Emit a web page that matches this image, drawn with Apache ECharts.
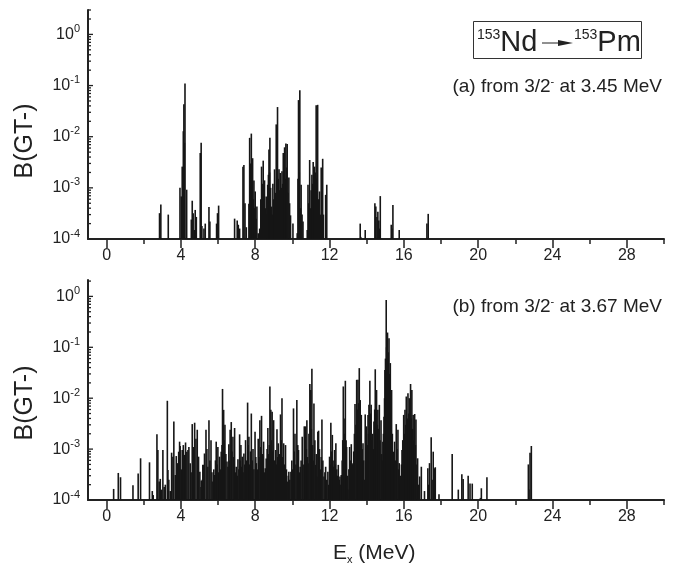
<!DOCTYPE html>
<html><head><meta charset="utf-8">
<script src="https://cdn.jsdelivr.net/npm/echarts@6/dist/echarts.min.js"></script>
<style>html,body{margin:0;padding:0;background:#fff}#c{width:698px;height:571px}</style>
</head><body><div id="c"></div>
<script>
// ---- axis ticks ----
const xMajorTicks = [0, 4, 8, 12, 16, 20, 24, 28];
const xMinorTicks = [2, 6, 10, 14, 18, 22, 26, 30];
const yMajorTicks = [1e-4, 1e-3, 1e-2, 1e-1, 1];
const yMinorTicks = [2e-4,3e-4,4e-4,5e-4,6e-4,7e-4,8e-4,9e-4,
  2e-3,3e-3,4e-3,5e-3,6e-3,7e-3,8e-3,9e-3,
  2e-2,3e-2,4e-2,5e-2,6e-2,7e-2,8e-2,9e-2,
  0.2,0.3,0.4,0.5,0.6,0.7,0.8,0.9, 2, 3];

// ---- panel (a): from 3/2- at 3.45 MeV ----
const topE = [
  2.85, 2.92, 3.32, 3.95, 4.02, 4.07, 4.13, 4.16, 4.19, 4.22,
  4.31, 4.56, 4.61, 4.66, 4.72, 4.77, 4.83, 5.04, 5.09, 5.13,
  5.24, 5.31, 5.51, 5.56, 5.92, 5.97, 6.03, 6.89, 7.03, 7.09,
  7.16, 7.34, 7.39, 7.45, 7.52, 7.66, 7.70, 7.74, 7.79, 7.83,
  7.86, 7.90, 7.93, 7.97, 8.00, 8.05, 8.09, 8.16, 8.24, 8.30,
  8.34, 8.38, 8.43, 8.46, 8.50, 8.55, 8.59, 8.63, 8.67, 8.71,
  8.74, 8.77, 8.79, 8.83, 8.88, 8.92, 8.95, 9.00, 9.04, 9.08,
  9.13, 9.17, 9.20, 9.24, 9.28, 9.32, 9.35, 9.40, 9.44, 9.48,
  9.51, 9.55, 9.58, 9.62, 9.65, 9.69, 9.72, 9.76, 9.81, 9.85,
  9.90, 10.03, 10.26, 10.30, 10.33, 10.37, 10.40, 10.44, 10.47, 10.52,
  10.57, 10.80, 10.84, 10.88, 10.93, 10.97, 11.01, 11.05, 11.09, 11.12,
  11.16, 11.19, 11.24, 11.28, 11.32, 11.36, 11.41, 11.46, 11.50, 11.55,
  11.59, 11.63, 11.67, 11.79, 11.85, 13.65, 13.68, 13.92, 14.44, 14.49,
  14.55, 14.60, 14.65, 14.68, 14.73, 15.32, 15.36, 15.41, 15.75, 17.24, 17.31
];
const topB = [
  3.2e-4, 4.7e-4, 3.0e-4, 1.0e-3, 6.8e-4, 2.6e-3, 1.28e-2, 4.3e-2, 7.6e-3, 1.1e-1,
  9.2e-4, 2.4e-4, 5.6e-4, 3.2e-4, 1.5e-4, 3.7e-4, 2.7e-4, 4.8e-3, 7.6e-3, 1.8e-4,
  1.6e-4, 2.0e-4, 4.2e-4, 2.2e-4, 2.0e-4, 3.2e-4, 4.5e-4, 2.5e-4, 2.3e-4, 1.9e-4,
  1.6e-4, 2.6e-3, 2.8e-3, 5.0e-4, 1.7e-4, 4.9e-4, 9.5e-3, 3.0e-3, 1.15e-2, 1.0e-3,
  3.8e-3, 6.0e-4, 1.4e-3, 4.0e-4, 8.5e-4, 2.5e-4, 4.3e-4, 1.3e-4, 1.6e-4, 6.0e-4,
  2.6e-3, 1.2e-3, 3.4e-3, 8.0e-4, 1.4e-3, 4.0e-4, 6.8e-4, 3.0e-4, 1.15e-3, 1.8e-3,
  5.6e-3, 2.0e-3, 9.5e-3, 1.0e-3, 4.3e-4, 3.0e-4, 1.2e-3, 6.0e-4, 2.3e-3, 8.0e-4,
  1.74e-2, 5.0e-3, 3.8e-2, 1.5e-3, 2.3e-3, 9.0e-4, 1.95e-3, 1.0e-3, 2.1e-3, 1.2e-3,
  4.8e-3, 2.0e-3, 6.2e-3, 1.5e-3, 7.4e-3, 2.5e-3, 7.2e-3, 8.0e-4, 1.6e-3, 5.0e-4,
  2.9e-4, 2.0e-4, 1.3e-4, 1.5e-3, 5.2e-2, 2.0e-3, 8.1e-2, 4.0e-4, 1.15e-3, 3.0e-4,
  2.2e-4, 1.5e-4, 1.15e-3, 5.0e-4, 3.5e-3, 4.0e-4, 9.0e-4, 1.8e-3, 1.2e-3, 3.2e-3,
  1.0e-3, 2.6e-3, 2.0e-3, 4.1e-2, 1.5e-3, 4.2e-2, 6.0e-4, 8.5e-4, 3.0e-4, 2.5e-3,
  8.0e-4, 3.7e-3, 3.0e-4, 7.3e-4, 1.15e-3, 2.0e-4, 1.1e-4, 1.5e-4, 5.0e-4, 4.3e-4,
  2.7e-4, 3.4e-4, 2.3e-4, 1.6e-4, 6.9e-4, 1.9e-4, 1.6e-4, 4.6e-4, 1.5e-4, 2.0e-4, 3.1e-4
];

// ---- panel (b): from 3/2- at 3.67 MeV ----
const botE = [
  0.38, 0.63, 0.75, 1.42, 1.70, 1.83, 2.31, 2.46, 2.51, 2.71,
  2.76, 2.83, 2.89, 2.96, 3.03, 3.10, 3.16, 3.27, 3.30, 3.35,
  3.43, 3.50, 3.57, 3.62, 3.70, 3.75, 3.82, 3.88, 3.93, 3.96,
  4.02, 4.07, 4.13, 4.20, 4.25, 4.32, 4.38, 4.43, 4.50, 4.55,
  4.61, 4.68, 4.74, 4.81, 4.88, 4.95, 5.02, 5.08, 5.10, 5.15,
  5.18, 5.22, 5.27, 5.35, 5.40, 5.45, 5.51, 5.56, 5.62, 5.67,
  5.72, 5.77, 5.81, 5.86, 5.90, 5.95, 5.99, 6.04, 6.08, 6.13,
  6.17, 6.21, 6.24, 6.30, 6.33, 6.37, 6.42, 6.48, 6.53, 6.58,
  6.62, 6.65, 6.71, 6.75, 6.80, 6.85, 6.89, 6.94, 6.98, 7.03,
  7.07, 7.12, 7.16, 7.20, 7.23, 7.27, 7.30, 7.35, 7.39, 7.44,
  7.48, 7.53, 7.59, 7.62, 7.66, 7.70, 7.75, 7.79, 7.84, 7.88,
  7.93, 7.99, 8.03, 8.06, 8.11, 8.16, 8.20, 8.25, 8.30, 8.34,
  8.40, 8.45, 8.50, 8.54, 8.59, 8.64, 8.68, 8.72, 8.76, 8.79,
  8.84, 8.88, 8.91, 8.95, 8.99, 9.04, 9.10, 9.14, 9.17, 9.21,
  9.24, 9.28, 9.32, 9.36, 9.40, 9.44, 9.48, 9.53, 9.58, 9.63,
  9.68, 9.74, 9.78, 9.81, 9.86, 9.92, 9.97, 10.02, 10.06, 10.10,
  10.14, 10.19, 10.24, 10.29, 10.33, 10.38, 10.42, 10.47, 10.53, 10.58,
  10.64, 10.68, 10.71, 10.75, 10.78, 10.82, 10.85, 10.89, 10.94, 10.99,
  11.02, 11.05, 11.09, 11.12, 11.16, 11.21, 11.25, 11.29, 11.32, 11.37,
  11.41, 11.46, 11.50, 11.55, 11.59, 11.64, 11.70, 11.75, 11.79, 11.85,
  11.91, 11.96, 12.00, 12.04, 12.07, 12.11, 12.15, 12.19, 12.22, 12.27,
  12.31, 12.34, 12.39, 12.43, 12.47, 12.52, 12.56, 12.60, 12.63, 12.68,
  12.71, 12.74, 12.78, 12.82, 12.85, 12.89, 12.92, 12.96, 12.99, 13.04,
  13.08, 13.12, 13.17, 13.22, 13.26, 13.30, 13.34, 13.37, 13.42, 13.46,
  13.50, 13.53, 13.57, 13.60, 13.65, 13.68, 13.71, 13.76, 13.80, 13.84,
  13.87, 13.92, 13.96, 13.99, 14.03, 14.07, 14.10, 14.12, 14.17, 14.21,
  14.24, 14.28, 14.32, 14.36, 14.39, 14.43, 14.46, 14.50, 14.53, 14.57,
  14.60, 14.64, 14.68, 14.72, 14.77, 14.81, 14.84, 14.87, 14.90, 14.93,
  14.96, 14.98, 15.01, 15.05, 15.07, 15.09, 15.12, 15.16, 15.20, 15.23,
  15.27, 15.31, 15.34, 15.38, 15.43, 15.47, 15.50, 15.55, 15.59, 15.63,
  15.68, 15.71, 15.75, 15.79, 15.83, 15.87, 15.90, 15.94, 15.99, 16.03,
  16.06, 16.10, 16.13, 16.18, 16.22, 16.26, 16.29, 16.33, 16.36, 16.40,
  16.43, 16.47, 16.50, 16.54, 16.58, 16.62, 16.65, 16.70, 16.74, 16.79,
  16.85, 16.94, 17.11, 17.29, 17.34, 17.38, 17.47, 17.52, 17.58, 17.66,
  17.69, 17.89, 18.60, 18.93, 19.12, 19.19, 19.46, 19.56, 19.68, 20.12,
  20.17, 20.47, 22.70, 22.73, 22.79, 22.86
];
const botB = [
  1.65e-4, 3.4e-4, 2.8e-4, 1.95e-4, 3.3e-4, 6.6e-4, 5.5e-4, 1.5e-4, 1.25e-4, 1.95e-3,
  9.6e-4, 2.3e-4, 2.6e-4, 1.6e-4, 9.6e-4, 1.8e-4, 2.0e-4, 8.9e-3, 3.9e-4, 2.5e-4,
  1.5e-4, 8.5e-4, 7.1e-4, 3.5e-3, 3.1e-4, 7.3e-4, 5.3e-4, 8.9e-4, 1.4e-3, 1.15e-3,
  4.0e-4, 9.6e-4, 1.2e-3, 7.7e-4, 1.35e-3, 8.9e-4, 9.6e-4, 1.1e-3, 5.3e-4, 3.5e-4,
  3.1e-3, 1.1e-3, 3.3e-3, 1.6e-3, 2.4e-3, 7.1e-4, 3.6e-4, 1.8e-4, 2.4e-4, 2.5e-4,
  4.9e-4, 4.9e-4, 8.2e-4, 2.4e-3, 1.0e-3, 4.5e-4, 3.7e-3, 6.0e-4, 1.5e-3, 3.5e-4,
  2.3e-4, 4.0e-4, 3.1e-4, 6.0e-4, 1.4e-3, 5.0e-4, 1.1e-3, 3.5e-4, 7.1e-4, 4.0e-4,
  8.9e-4, 1.2e-3, 1.52e-2, 5.9e-3, 1.5e-3, 3.0e-3, 8.0e-4, 5.7e-4, 4.5e-4, 1.25e-3,
  6.0e-4, 2.4e-3, 3.4e-3, 9.0e-4, 1.75e-3, 7.0e-4, 2.6e-3, 3.5e-4, 4.5e-4, 3.0e-4,
  6.3e-4, 4.0e-4, 1.95e-3, 6.0e-4, 1.2e-3, 4.5e-4, 7.1e-4, 3.5e-4, 8.2e-4, 5.0e-4,
  1.5e-3, 6.0e-4, 8.2e-3, 1.2e-3, 1.75e-3, 5.0e-4, 9.0e-4, 5.0e-3, 6.0e-4, 1.0e-3,
  4.0e-4, 2.2e-3, 7.0e-4, 5.3e-4, 4.0e-4, 1.6e-3, 7.0e-4, 3.7e-3, 1.1e-3, 4.5e-3,
  8.0e-4, 1.4e-3, 3.5e-4, 4.2e-4, 6.5e-4, 1.0e-3, 2.6e-3, 8.0e-4, 1.2e-3, 1.7e-2,
  5.9e-3, 1.5e-3, 5.4e-3, 9.0e-4, 3.7e-3, 6.0e-4, 9.6e-4, 5.0e-4, 2.45e-3, 7.0e-4,
  1.3e-3, 5.0e-4, 8.0e-4, 4.8e-3, 1.5e-3, 1.0e-2, 7.0e-4, 1.3e-3, 5.0e-4, 1.2e-3,
  4.0e-4, 2.3e-4, 3.0e-4, 3.6e-4, 2.5e-4, 3.6e-4, 6.0e-4, 4.0e-4, 6.3e-3, 9.0e-4,
  2.0e-3, 5.0e-4, 9.2e-3, 1.2e-3, 9.6e-4, 3.5e-4, 4.5e-4, 6.0e-4, 1.75e-3, 5.0e-4,
  2.8e-3, 8.0e-4, 2.8e-3, 1.0e-3, 3.7e-3, 7.0e-4, 5.3e-4, 2.0e-3, 1.9e-2, 1.45e-2,
  2.5e-3, 3.8e-2, 1.2e-3, 6.0e-4, 7.9e-3, 1.5e-3, 4.9e-4, 8.0e-4, 2.9e-4, 2.2e-3,
  2.3e-3, 1.0e-3, 4.0e-4, 7.0e-4, 3.8e-3, 6.0e-4, 2.9e-4, 3.5e-4, 4.5e-4, 2.5e-4,
  3.6e-4, 2.0e-4, 7.1e-4, 5.0e-4, 3.3e-3, 9.0e-4, 1.9e-3, 6.0e-4, 4.5e-4, 9.6e-4,
  5.0e-4, 1.3e-3, 4.0e-4, 3.0e-4, 4.9e-4, 2.5e-4, 2.9e-4, 2.0e-4, 3.1e-4, 6.0e-4,
  1.5e-3, 1.7e-2, 4.0e-3, 2.0e-3, 2.2e-2, 1.5e-3, 1.1e-3, 3.0e-4, 1.6e-4, 4.0e-4,
  1.1e-3, 6.0e-4, 1.25e-3, 5.0e-4, 5.3e-4, 9.0e-4, 2.0e-3, 7.7e-3, 3.0e-3, 2.3e-2,
  6.0e-3, 2.3e-2, 8.0e-3, 3.9e-2, 9.2e-3, 2.5e-3, 4.7e-3, 1.0e-3, 1.3e-3, 6.0e-4,
  2.5e-4, 4.8e-3, 1.5e-3, 2.8e-3, 1.2e-3, 4.7e-3, 2.0e-3, 7.4e-3, 2.2e-2, 5.0e-3,
  7.4e-3, 1.5e-3, 2.0e-3, 1.0e-3, 3.5e-3, 6.0e-3, 3.7e-2, 5.0e-3, 1.45e-2, 3.0e-3,
  5.9e-3, 2.5e-3, 7.4e-3, 1.5e-3, 3.7e-3, 8.0e-4, 6.0e-4, 1.4e-3, 2.0e-3, 4.3e-3,
  1.0e-2, 3.6e-2, 6.0e-2, 8.5e-1, 1.0e-1, 1.3e-1, 1.95e-1, 8.0e-2, 1.5e-1, 3.0e-2,
  4.9e-2, 5.0e-3, 1.45e-2, 2.0e-3, 8.9e-4, 5.0e-4, 1.4e-3, 6.0e-4, 3.1e-3, 1.0e-3,
  2.4e-3, 4.0e-4, 5.3e-4, 2.0e-4, 3.0e-4, 5.0e-4, 9.6e-4, 1.5e-3, 4.7e-3, 2.0e-3,
  5.9e-3, 3.0e-3, 1.08e-2, 4.0e-3, 1.25e-2, 5.0e-3, 1.0e-2, 6.0e-3, 1.9e-2, 4.0e-3,
  1.45e-2, 2.5e-3, 4.7e-3, 1.5e-3, 4.9e-3, 1.2e-3, 3.8e-3, 5.0e-4, 6.6e-4, 2.0e-4,
  2.9e-4, 4.5e-4, 1.5e-4, 4.2e-4, 2.0e-4, 5.3e-4, 1.7e-3, 2.5e-4, 8.9e-4, 4.2e-4,
  4.4e-4, 1.3e-4, 8.0e-4, 1.6e-4, 3.2e-4, 2.6e-4, 3.0e-4, 2.1e-4, 2.1e-4, 1.1e-4,
  1.7e-4, 2.8e-4, 5.0e-4, 1.6e-4, 8.5e-4, 1.15e-3
];

// ---- ranges ----
const X_MIN = -1, X_MAX = 30;
const Y_MIN = 1e-4;
const Y_MAX_TOP = 3, Y_MAX_BOT = 2.1;

const FONT = "'Liberation Sans', Arial, sans-serif";
const INK = '#222';

function xAxes(g) {
  return [
    { type: 'value', gridIndex: g, min: X_MIN, max: X_MAX, position: 'bottom',
      axisLine: { show: true, onZero: false, lineStyle: { color: INK, width: 2 } },
      axisTick: { show: true, inside: false, length: 9, customValues: xMajorTicks, lineStyle: { color: INK, width: 1.5 } },
      axisLabel: { customValues: xMajorTicks, margin: 9, fontSize: 16, color: INK, fontFamily: FONT },
      splitLine: { show: false } },
    { type: 'value', gridIndex: g, min: X_MIN, max: X_MAX, position: 'bottom',
      axisLine: { show: false, onZero: false },
      axisTick: { show: true, inside: false, length: 5, customValues: xMinorTicks, lineStyle: { color: INK, width: 1.5 } },
      axisLabel: { show: false },
      splitLine: { show: false } }
  ];
}
function yAxis(g, ymax) {
  return { type: 'log', logBase: 10, gridIndex: g, min: Y_MIN, max: ymax,
    axisLine: { show: true, onZero: false, lineStyle: { color: INK, width: 2 } },
    axisTick: { show: false },
    splitLine: { show: false },
    axisLabel: { showMaxLabel: false, margin: 8, color: INK,
      formatter: v => '{b|10}{s|' + Math.round(Math.log10(v)) + '}',
      rich: { b: { fontSize: 16, lineHeight: 22, fontFamily: FONT, color: INK },
              s: { fontSize: 11, lineHeight: 11, verticalAlign: 'top', fontFamily: FONT, color: INK } } }
  };
}
function barSeries(xi, yi, E, B) {
  return { type: 'custom', xAxisIndex: xi, yAxisIndex: yi, silent: true, animation: false,
    data: E.map((e, i) => [e, B[i]]), encode: { x: 0, y: 1 },
    renderItem: (p, api) => {
      const a = api.coord([api.value(0), Y_MIN]);
      const b = api.coord([api.value(0), api.value(1)]);
      return { type: 'line', shape: { x1: a[0], y1: a[1], x2: b[0], y2: b[1] },
        style: { stroke: '#161616', lineWidth: 1.6 } };
    } };
}
function yTickSeries(xi, yi, ymax) {
  const d = yMajorTicks.map(v => [X_MIN, v, 5]).concat(
    yMinorTicks.filter(v => v <= ymax).map(v => [X_MIN, v, 3]));
  return { type: 'custom', xAxisIndex: xi, yAxisIndex: yi, silent: true, animation: false,
    data: d, encode: { x: 0, y: 1 },
    renderItem: (p, api) => {
      const c = api.coord([api.value(0), api.value(1)]);
      const len = api.value(2);
      return { type: 'line', shape: { x1: c[0], y1: c[1], x2: c[0] + len, y2: c[1] },
        style: { stroke: INK, lineWidth: 1.3 } };
    } };
}

const chart = echarts.init(document.getElementById('c'), null, { renderer: 'canvas' });
chart.setOption({
  backgroundColor: '#fff',
  animation: false,
  grid: [
    { left: 88, top: 10, width: 576, height: 229 },
    { left: 88, top: 280, width: 576, height: 220 }
  ],
  xAxis: xAxes(0).concat(xAxes(1)),
  yAxis: [yAxis(0, Y_MAX_TOP), yAxis(1, Y_MAX_BOT)],
  series: [
    barSeries(0, 0, topE, topB),
    barSeries(2, 1, botE, botB),
    yTickSeries(0, 0, Y_MAX_TOP),
    yTickSeries(2, 1, Y_MAX_BOT)
  ],
  graphic: [
    { type: 'rect', shape: { x: 473.5, y: 21.5, width: 168, height: 37 },
      style: { fill: 'none', stroke: '#333', lineWidth: 1 } },
    { type: 'text', x: 477, y: 43, style: { text: '{s|153}{b|Nd}', verticalAlign: 'middle',
      rich: { s: { fontSize: 14, lineHeight: 14, verticalAlign: 'top', fontFamily: FONT, fill: INK },
              b: { fontSize: 29, lineHeight: 30, fontFamily: FONT, fill: INK } } } },
    { type: 'line', shape: { x1: 542, y1: 43, x2: 562, y2: 43 }, style: { stroke: INK, lineWidth: 1 } },
    { type: 'polygon', shape: { points: [[558, 40], [573, 43], [558, 46]] }, style: { fill: INK } },
    { type: 'text', x: 574, y: 43, style: { text: '{s|153}{b|Pm}', verticalAlign: 'middle',
      rich: { s: { fontSize: 14, lineHeight: 14, verticalAlign: 'top', fontFamily: FONT, fill: INK },
              b: { fontSize: 29, lineHeight: 30, fontFamily: FONT, fill: INK } } } },
    { type: 'text', x: 662, y: 87, style: { text: '{t|(a) from 3/2}{s|-}{t| at 3.45 MeV}', align: 'right', verticalAlign: 'middle',
      rich: { t: { fontSize: 19, lineHeight: 22, fontFamily: FONT, fill: INK },
              s: { fontSize: 11, lineHeight: 10, verticalAlign: 'top', fontFamily: FONT, fill: INK } } } },
    { type: 'text', x: 662, y: 307, style: { text: '{t|(b) from 3/2}{s|-}{t| at 3.67 MeV}', align: 'right', verticalAlign: 'middle',
      rich: { t: { fontSize: 19, lineHeight: 22, fontFamily: FONT, fill: INK },
              s: { fontSize: 11, lineHeight: 10, verticalAlign: 'top', fontFamily: FONT, fill: INK } } } },
    { type: 'text', x: 25, y: 141, rotation: Math.PI / 2,
      style: { text: 'B(GT-)', align: 'center', verticalAlign: 'middle', fontSize: 25, fontFamily: FONT, fill: INK } },
    { type: 'text', x: 25, y: 403, rotation: Math.PI / 2,
      style: { text: 'B(GT-)', align: 'center', verticalAlign: 'middle', fontSize: 25, fontFamily: FONT, fill: INK } },
    { type: 'text', x: 333, y: 553, style: { text: '{b|E}{sub|x}{b| (MeV)}', verticalAlign: 'middle',
      rich: { b: { fontSize: 21, lineHeight: 24, fontFamily: FONT, fill: INK },
              sub: { fontSize: 11, lineHeight: 11, verticalAlign: 'bottom', fontFamily: FONT, fill: INK } } } }
  ]
});
</script>
</body></html>
